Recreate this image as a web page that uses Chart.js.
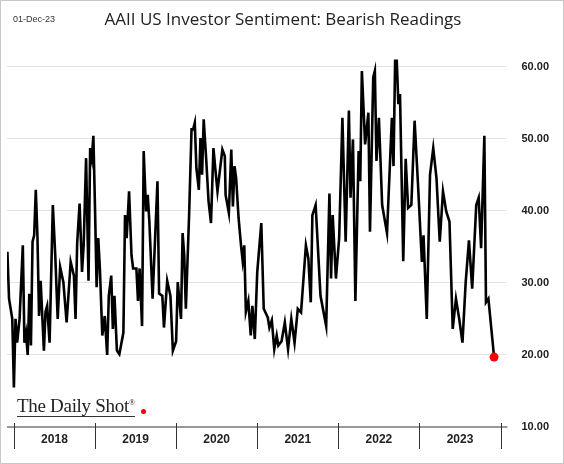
<!DOCTYPE html>
<html><head><meta charset="utf-8">
<script src="https://cdn.jsdelivr.net/npm/chart.js@4/dist/chart.umd.min.js"></script>
<style>
html,body{margin:0;padding:0;background:#fff}
#wrap{position:relative;width:562px;height:462px;border:1px solid #c8c8c8;overflow:hidden}
#title{position:absolute;left:0;width:564px;top:6px;text-align:center;font:17px "Open Sans",sans-serif;color:#222}
#date{position:absolute;left:12px;top:13px;font:9px "Liberation Sans",sans-serif;color:#333}
#logo{position:absolute;left:16px;top:392px;font:19px "Liberation Serif",serif;color:#222;letter-spacing:-0.3px;border-bottom:1.5px solid #333;line-height:20px}
#logo sup{font-size:8px}
#dot{position:absolute;left:140px;top:408px;width:5px;height:5px;border-radius:50%;background:#e00}
</style></head><body>
<div id="wrap">
<canvas id="c" width="562" height="462"></canvas>
<div id="title">AAII US Investor Sentiment: Bearish Readings</div>
<div id="date">01-Dec-23</div>
<div id="logo">The Daily Shot<sup>®</sup></div>
<div id="dot"></div>
</div>
<script>
const dates = [2017.92,2017.94,2017.98,2018.00,2018.02,2018.04,2018.07,2018.11,2018.13,2018.15,2018.17,2018.19,2018.21,2018.23,2018.25,2018.27,2018.29,2018.31,2018.33,2018.35,2018.37,2018.39,2018.41,2018.44,2018.48,2018.51,2018.54,2018.57,2018.61,2018.65,2018.70,2018.74,2018.76,2018.78,2018.81,2018.84,2018.86,2018.89,2018.92,2018.94,2018.96,2018.98,2019.00,2019.02,2019.04,2019.06,2019.09,2019.12,2019.15,2019.17,2019.20,2019.22,2019.24,2019.27,2019.30,2019.35,2019.37,2019.39,2019.42,2019.45,2019.47,2019.51,2019.53,2019.55,2019.58,2019.60,2019.63,2019.65,2019.67,2019.71,2019.77,2019.79,2019.83,2019.85,2019.89,2019.93,2019.96,2020.00,2020.02,2020.06,2020.08,2020.10,2020.12,2020.16,2020.19,2020.21,2020.23,2020.25,2020.28,2020.30,2020.32,2020.34,2020.37,2020.40,2020.43,2020.46,2020.48,2020.51,2020.57,2020.60,2020.61,2020.65,2020.68,2020.70,2020.72,2020.74,2020.77,2020.80,2020.82,2020.84,2020.86,2020.89,2020.92,2020.94,2020.97,2021.00,2021.05,2021.08,2021.13,2021.15,2021.18,2021.21,2021.24,2021.26,2021.30,2021.34,2021.38,2021.42,2021.46,2021.50,2021.54,2021.60,2021.63,2021.66,2021.68,2021.72,2021.78,2021.85,2021.89,2021.91,2021.93,2021.97,2022.01,2022.05,2022.09,2022.13,2022.15,2022.18,2022.21,2022.25,2022.27,2022.29,2022.33,2022.37,2022.39,2022.43,2022.45,2022.47,2022.50,2022.54,2022.60,2022.66,2022.68,2022.70,2022.72,2022.74,2022.76,2022.80,2022.83,2022.86,2022.90,2022.94,2022.98,2023.03,2023.05,2023.09,2023.13,2023.17,2023.21,2023.25,2023.29,2023.33,2023.37,2023.41,2023.45,2023.49,2023.53,2023.57,2023.61,2023.65,2023.70,2023.73,2023.76,2023.80,2023.82,2023.85,2023.92];
const bearish = [34.3,27.8,25,15.5,25,21.7,25,35.2,21.7,23,20,28.5,21.3,35.7,36.6,42.9,36.6,25.4,30.3,25.4,20.6,26,26.8,21.7,40.8,33.8,25,32.2,30.1,24.5,32.9,31,25,35.5,41,31.5,35.2,47.3,30.3,48.7,47.3,50.4,40.4,29.4,36.2,32,22.7,25.4,20,28.2,31,23.6,28.2,20.6,20.1,23.1,39.4,36.2,42.7,33.8,32,32,27.5,32,24,48.3,39.9,42.2,38.5,27.8,44.1,28.5,28.2,23.8,30.3,28.2,20.6,21.9,30.1,25,36.9,33.8,26.4,39.4,51.3,51.3,52.2,45.9,42.9,50.1,45,52.7,47.3,41.3,38.3,48.7,46.2,42.7,48.5,47.6,42.2,39.7,48.5,40.6,46.2,44.5,39,35.2,33.1,35.2,26,27.5,22.7,26.8,22.2,31.5,38.3,26.4,25.2,23.8,24.8,20.8,22.7,21.3,21.9,24.5,20.8,25,21.7,26.4,25.9,35.2,33.4,27.3,39.4,40.8,28.2,24,42.4,30.6,39.4,30.6,36.2,52.9,35.7,53.9,41.8,49.9,27.5,48.3,44.1,59.4,49.2,53.6,37.1,58.5,59.4,46.9,52.9,40.8,36.9,52.9,46.2,60.8,60.8,54.8,56.2,33,47.2,40.4,40.8,52.5,44.1,32.9,36.6,25,45,48.7,44.5,35.7,42.7,39.9,38.5,23.6,27.8,25,21.7,30.1,35.9,29.2,40.8,41.8,34.8,50.4,27.3,27.8,19.7];
const years = [2018,2019,2020,2021,2022,2023];
const yTicks = [10,20,30,40,50,60];

const pts = dates.map((d,i)=>({x:d,y:bearish[i]}));
const n = pts.length;
const yearPlugin = {
  id:'years',
  afterDraw(chart){
    const {ctx, scales:{x,y}} = chart;
    const y0 = y.getPixelForValue(10);
    ctx.save();
    ctx.strokeStyle='#333'; ctx.lineWidth=1;
    ctx.beginPath(); ctx.moveTo(chart.chartArea.left,y0); ctx.lineTo(chart.chartArea.right,y0); ctx.stroke();
    ctx.fillStyle='#222'; ctx.font='bold 12px "Liberation Sans",sans-serif'; ctx.textAlign='center'; ctx.textBaseline='middle';
    years.concat([years[years.length-1]+1]).forEach(yr=>{
      const px = Math.round(x.getPixelForValue(yr))+0.5;
      ctx.beginPath(); ctx.moveTo(px,y0-4); ctx.lineTo(px,y0+22); ctx.stroke();
    });
    years.forEach(yr=>{ ctx.fillText(String(yr), x.getPixelForValue(yr+0.5), y0+13); });
    ctx.restore();
  }
};
new Chart(document.getElementById('c'),{
  type:'line',
  data:{datasets:[{data:pts,borderColor:'#000',borderWidth:2.6,tension:0,
    pointRadius:pts.map((p,i)=>i===n-1?4.5:0),pointBackgroundColor:'#f00',pointBorderWidth:0}]},
  options:{responsive:false,animation:false,
    layout:{padding:{left:6,right:0,top:44,bottom:36}},
    plugins:{legend:{display:false},tooltip:{enabled:false}},
    scales:{
      x:{type:'linear',min:2017.915,max:2024.085,display:false},
      y:{position:'right',min:10,max:63,
        afterBuildTicks(ax){ax.ticks=yTicks.map(v=>({value:v}));},
        border:{display:false},
        grid:{color:c=>c.tick&&c.tick.value===10?'rgba(0,0,0,0)':'#e3e3e3',drawTicks:false,lineWidth:1},
        ticks:{padding:14,color:'#222',font:{size:11,weight:'bold',family:'"Liberation Sans",sans-serif'},callback:v=>v.toFixed(2)}}
    }},
  plugins:[yearPlugin]
});
</script></body></html>
